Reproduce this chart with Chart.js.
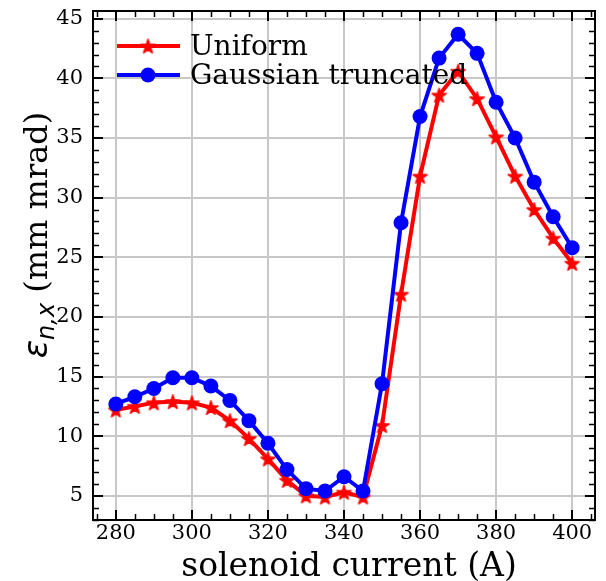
<!DOCTYPE html>
<html>
<head>
<meta charset="utf-8">
<script src="https://cdn.jsdelivr.net/npm/chart.js@4/dist/chart.umd.min.js"></script>
<style>
  html, body { margin: 0; padding: 0; background: #fff; }
  #wrap { width: 606px; height: 581px; }
</style>
</head>
<body>
<div id="wrap"><canvas id="c" width="606" height="581"></canvas></div>
<script>
// Solenoid scan: normalized horizontal emittance vs. solenoid current
const current = [280, 285, 290, 295, 300, 305, 310, 315, 320, 325, 330, 335, 340,
                 345, 350, 355, 360, 365, 370, 375, 380, 385, 390, 395, 400];
const uniform = [12.2, 12.5, 12.8, 12.9, 12.8, 12.4, 11.3, 9.8, 8.1, 6.3, 5.0, 4.9, 5.3,
                 4.9, 10.9, 21.9, 31.8, 38.6, 40.6, 38.3, 35.1, 31.8, 29.0, 26.6, 24.5];
const gaussian = [12.7, 13.3, 14.0, 14.9, 14.9, 14.2, 13.0, 11.3, 9.4, 7.2, 5.6, 5.4, 6.6,
                  5.4, 14.4, 27.9, 36.8, 41.7, 43.7, 42.1, 38.0, 35.0, 31.3, 28.4, 25.8];
const seriesNames = ['Uniform', 'Gaussian truncated'];
const xTicks = [280, 300, 320, 340, 360, 380, 400];
const yTicks = [5, 10, 15, 20, 25, 30, 35, 40, 45];

const RED = '#ff0000';
const BLUE = '#0000ff';
const SERIF = '"DejaVu Serif", serif';

// filled five-pointed star used as the marker of the first series
function makeStar(color, R) {
  const size = Math.ceil(R * 2 + 4);
  const cv = document.createElement('canvas');
  cv.width = size; cv.height = size;
  const g = cv.getContext('2d');
  const c = size / 2, r = R * 0.3819;
  g.beginPath();
  for (let i = 0; i < 10; i++) {
    const rad = i % 2 === 0 ? R : r;
    const ang = -Math.PI / 2 + i * Math.PI / 5;
    const px = c + rad * Math.cos(ang), py = c + rad * Math.sin(ang) + R * 0.1;
    if (i === 0) g.moveTo(px, py); else g.lineTo(px, py);
  }
  g.closePath();
  g.fillStyle = color; g.fill();
  g.lineWidth = 1.4; g.strokeStyle = color; g.lineJoin = 'round'; g.stroke();
  return cv;
}
const starImg = makeStar(RED, 7.5);

// frame, inward major/minor ticks on all four sides
const frameTicks = {
  id: 'frameTicks',
  afterDraw(chart) {
    const { ctx, chartArea: a, scales: { x, y } } = chart;
    ctx.save();
    ctx.strokeStyle = '#000';
    ctx.lineCap = 'butt';
    const majLen = 10, minLen = 6;
    const xs = (v) => Math.round(x.getPixelForValue(v)) + 0.5;
    const ys = (v) => Math.round(y.getPixelForValue(v)) + 0.5;
    ctx.lineWidth = 1.5;
    ctx.beginPath();
    for (let v = Math.ceil(x.min / 5) * 5; v <= x.max; v += 5) {
      if (xTicks.includes(v)) continue;
      const px = xs(v);
      ctx.moveTo(px, a.bottom); ctx.lineTo(px, a.bottom - minLen);
      ctx.moveTo(px, a.top); ctx.lineTo(px, a.top + minLen);
    }
    for (let v = Math.ceil(y.min); v <= y.max; v += 1) {
      if (yTicks.includes(v)) continue;
      const py = ys(v);
      ctx.moveTo(a.left, py); ctx.lineTo(a.left + minLen, py);
      ctx.moveTo(a.right, py); ctx.lineTo(a.right - minLen, py);
    }
    ctx.stroke();
    ctx.lineWidth = 2;
    ctx.beginPath();
    xTicks.forEach(v => {
      const px = Math.round(x.getPixelForValue(v));
      ctx.moveTo(px, a.bottom); ctx.lineTo(px, a.bottom - majLen);
      ctx.moveTo(px, a.top); ctx.lineTo(px, a.top + majLen);
    });
    yTicks.forEach(v => {
      const py = Math.round(y.getPixelForValue(v));
      ctx.moveTo(a.left, py); ctx.lineTo(a.left + majLen, py);
      ctx.moveTo(a.right, py); ctx.lineTo(a.right - majLen, py);
    });
    ctx.stroke();
    ctx.lineWidth = 2;
    ctx.strokeRect(a.left, a.top, a.right - a.left, a.bottom - a.top);
    ctx.restore();
  }
};

// frameless legend in the upper left of the plot
const innerLegend = {
  id: 'innerLegend',
  afterDraw(chart) {
    const { ctx } = chart;
    const rows = [
      { name: seriesNames[0], color: RED, marker: 'star', y: 46 },
      { name: seriesNames[1], color: BLUE, marker: 'circle', y: 75 }
    ];
    ctx.save();
    rows.forEach(r => {
      ctx.strokeStyle = r.color;
      ctx.lineWidth = 4;
      ctx.beginPath();
      ctx.moveTo(117, r.y); ctx.lineTo(180, r.y);
      ctx.stroke();
      if (r.marker === 'star') {
        ctx.drawImage(starImg, 148 - starImg.width / 2, r.y - starImg.height / 2);
      } else {
        ctx.fillStyle = r.color;
        ctx.beginPath(); ctx.arc(148, r.y, 7.5, 0, Math.PI * 2); ctx.fill();
      }
      ctx.fillStyle = '#000';
      ctx.font = '28px ' + SERIF;
      ctx.textBaseline = 'alphabetic';
      ctx.textAlign = 'left';
      ctx.fillText(r.name, 190, r.y + 9);
    });
    ctx.restore();
  }
};

// axis titles (the y title carries a subscripted epsilon)
const axisTitles = {
  id: 'axisTitles',
  afterDraw(chart) {
    const { ctx } = chart;
    ctx.save();
    ctx.fillStyle = '#000';
    ctx.font = '33px ' + SERIF;
    ctx.textAlign = 'center';
    ctx.textBaseline = 'alphabetic';
    ctx.fillText('solenoid current (A)', 349, 576);

    const fEps = 'italic 34px "DejaVu Sans", sans-serif';
    const fSub = 'italic 24px "DejaVu Sans", sans-serif';
    const fRest = '32px ' + SERIF;
    ctx.font = fEps; const wEps = ctx.measureText('\u03b5').width;
    ctx.font = fSub; const wSub = ctx.measureText('n,x').width;
    ctx.font = fRest; const wRest = ctx.measureText(' (mm mrad)').width;
    const total = wEps + wSub + wRest;
    ctx.translate(47, 235);
    ctx.rotate(-Math.PI / 2);
    ctx.textAlign = 'left';
    let cx = -total / 2;
    ctx.font = fEps; ctx.fillText('\u03b5', cx, 0); cx += wEps;
    ctx.font = fSub; ctx.fillText('n,x', cx, 7); cx += wSub;
    ctx.font = fRest; ctx.fillText(' (mm mrad)', cx, 0);
    ctx.restore();
  }
};

new Chart(document.getElementById('c'), {
  type: 'line',
  data: {
    datasets: [
      {
        label: seriesNames[0],
        data: current.map((c, i) => ({ x: c, y: uniform[i] })),
        borderColor: RED, backgroundColor: RED,
        borderWidth: 4,
        pointStyle: starImg,
        pointRadius: 7,
        order: 1
      },
      {
        label: seriesNames[1],
        data: current.map((c, i) => ({ x: c, y: gaussian[i] })),
        borderColor: BLUE, backgroundColor: BLUE,
        borderWidth: 4,
        pointStyle: 'circle',
        pointRadius: 7.5,
        pointBorderWidth: 0,
        order: 0
      }
    ]
  },
  options: {
    responsive: false,
    animation: false,
    devicePixelRatio: 1,
    layout: { padding: { left: 0, top: 9, right: 3, bottom: 0 } },
    plugins: { legend: { display: false }, tooltip: { enabled: false } },
    elements: { line: { tension: 0 } },
    scales: {
      x: {
        type: 'linear',
        min: 274, max: 406,
        afterBuildTicks: s => { s.ticks = xTicks.map(v => ({ value: v })); },
        afterFit: s => { s.height = 61; s.paddingLeft = 0; s.paddingRight = 0; },
        ticks: { font: { family: SERIF, size: 21 }, color: '#000', padding: 1, maxRotation: 0 },
        grid: { color: '#c8c8c8', lineWidth: 2, drawTicks: false },
        border: { display: false }
      },
      y: {
        type: 'linear',
        min: 2.97, max: 45.65,
        afterBuildTicks: s => { s.ticks = yTicks.map(v => ({ value: v })); },
        afterFit: s => { s.width = 93; s.paddingTop = 0; s.paddingBottom = 0; },
        ticks: { font: { family: SERIF, size: 21 }, color: '#000', padding: 10 },
        grid: { color: '#c8c8c8', lineWidth: 2, drawTicks: false },
        border: { display: false }
      }
    }
  },
  plugins: [frameTicks, innerLegend, axisTitles]
});
</script>
</body>
</html>
